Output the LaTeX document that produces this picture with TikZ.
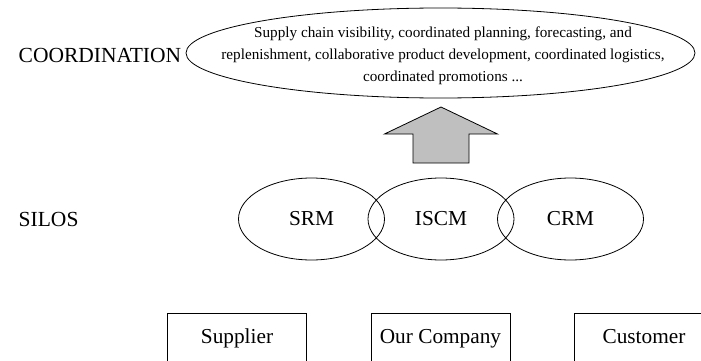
\documentclass[tikz,border=0pt]{standalone}
\usepackage{fontspec}
\setmainfont{Liberation Serif}
\usetikzlibrary{positioning,shapes.geometric}
\tikzset{
	on grid,
	sidetext/.style={anchor=west, font=\fontsize{21.5}{24}\selectfont},
	silo/.style={draw, ellipse, minimum width=146pt, minimum height=82pt, inner sep=0pt, font=\fontsize{21.3}{24}\selectfont},
	goaltext/.style={align=center, inner sep=0pt, font=\fontsize{15.2}{22}\selectfont},
	party/.style={draw, minimum width=139pt, minimum height=52pt, inner sep=0pt, text height=14pt, text depth=4.5pt, font=\fontsize{21.3}{24}\selectfont},
	bigarrow/.style={draw, fill=black!25, line join=miter},
}
\begin{document}
\begin{tikzpicture}[x=1pt, y=1pt, line width=0.8pt]
      \useasboundingbox (0,0) rectangle (701,360);
      \clip (0,0) rectangle (701,360);

      % coordination level
      \coordinate (goalc) at (440.5,307);
      \node[goaltext] (coord) at (443,304) {Supply chain visibility, coordinated planning, forecasting, and\\
        replenishment, collaborative product development, coordinated logistics,\\
        coordinated promotions ...};
      \draw (goalc) ellipse [x radius=254.5, y radius=45];
      \node[sidetext] (coordlbl) at (15,305) {COORDINATION};

      % silos
      \node[silo] (iscm) at (441,141) {ISCM};
      \node[silo, left=129.5pt of iscm] (srm) {SRM};
      \node[silo, right=129.5pt of iscm] (crm) {CRM};
      \node[sidetext] (silolbl) at (15,141) {SILOS};

      % parties
      \node[party] (company) at (440.5,21) {Our Company};
      \node[party, left=203.5pt of company] (supplier) {Supplier};
      \node[party, right=203.5pt of company] (customer) {Customer};

      % up arrow
      \coordinate (tip) at (441,253);
      \draw[bigarrow] (tip) -- ++(56.5,-27) -- ++(-28.5,0) -- ++(0,-29) -- ++(-56,0)
        -- ++(0,29) -- ++(-28.5,0) -- cycle;
\end{tikzpicture}
\end{document}
